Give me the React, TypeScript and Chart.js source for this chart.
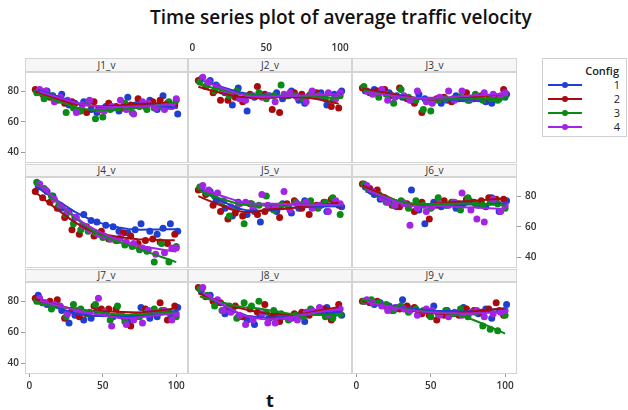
import React, { useEffect, useRef } from "react";
import { Chart, registerables } from "chart.js";
Chart.register(...registerables);

// ---------- DATA ----------
const CONFIGS = ["1", "2", "3", "4"];
const T1 = [6, 12, 16, 22, 27, 31, 37, 42, 46, 52, 57, 61, 67, 72, 76, 82, 87, 91, 96, 101];
const T2 = [4, 9, 14, 19, 24, 29, 34, 39, 44, 49, 54, 59, 64, 69, 74, 79, 84, 89, 94, 99];
const T3 = [5, 10, 15, 20, 25, 30, 35, 40, 45, 50, 55, 60, 65, 70, 75, 80, 85, 90, 95, 100];
const T4 = [7, 11, 17, 21, 26, 32, 36, 41, 47, 51, 56, 62, 66, 71, 77, 81, 86, 92, 97, 100];
const TIMES = [T1, T2, T3, T4];

const X_TICKS = [0, 50, 100];
const Y_TICKS = [40, 60, 80];
const PANEL_NAMES = ["J1_v", "J2_v", "J3_v", "J4_v", "J5_v", "J6_v", "J7_v", "J8_v", "J9_v"];

const J1 = [
  [80, 80, 77, 78, 71, 72, 73, 68, 66, 70, 69, 67, 76, 71, 72, 74, 68, 77, 70, 65],
  [81, 78, 76, 75, 72, 73, 67, 66, 73, 68, 72, 70, 69, 71, 75, 70, 73, 74, 72, 71],
  [79, 75, 77, 74, 66, 69, 67, 73, 62, 63, 68, 69, 72, 66, 70, 68, 69, 70, 73, 74],
  [81, 80, 73, 76, 74, 66, 71, 74, 68, 67, 70, 74, 68, 65, 73, 72, 69, 68, 70, 75],
];
const J2 = [
  [88, 87, 84, 79, 71, 82, 67, 76, 78, 77, 79, 75, 80, 74, 72, 78, 79, 71, 78, 80],
  [87, 83, 79, 74, 74, 76, 73, 78, 83, 78, 68, 66, 77, 79, 78, 77, 79, 76, 70, 69],
  [86, 84, 80, 80, 77, 80, 75, 77, 79, 75, 77, 84, 77, 77, 75, 78, 77, 75, 74, 77],
  [89, 86, 83, 80, 79, 75, 74, 77, 76, 77, 73, 78, 79, 76, 73, 80, 77, 79, 75, 79],
];
const J3 = [
  [80, 81, 80, 79, 77, 76, 74, 78, 75, 74, 72, 74, 77, 75, 74, 75, 73, 72, 75, 78],
  [82, 79, 80, 81, 77, 82, 75, 72, 66, 74, 75, 76, 73, 75, 79, 75, 77, 75, 76, 81],
  [83, 79, 76, 78, 72, 81, 76, 74, 68, 67, 74, 75, 75, 76, 74, 78, 74, 75, 74, 76],
  [80, 78, 81, 74, 76, 77, 74, 80, 73, 72, 76, 80, 74, 80, 75, 76, 79, 78, 77, 79],
];
const J4 = [
  [86, 83, 80, 72, 70, 66, 68, 64, 63, 61, 60, 57, 56, 58, 62, 57, 55, 59, 62, 57],
  [83, 79, 76, 72, 66, 58, 55, 60, 54, 57, 52, 51, 56, 54, 49, 51, 52, 50, 49, 55],
  [89, 85, 80, 74, 68, 62, 58, 57, 56, 53, 52, 51, 48, 47, 45, 44, 37, 49, 37, 47],
  [88, 84, 78, 74, 70, 66, 61, 58, 55, 54, 52, 53, 50, 49, 46, 45, 42, 43, 46, 46],
];
const J5 = [
  [85, 83, 77, 72, 67, 76, 68, 70, 63, 73, 70, 75, 69, 72, 77, 73, 74, 70, 75, 73],
  [84, 81, 74, 70, 65, 69, 67, 75, 68, 70, 73, 66, 75, 77, 72, 68, 74, 76, 78, 74],
  [86, 82, 80, 76, 67, 72, 62, 75, 74, 80, 71, 74, 73, 76, 75, 77, 72, 76, 79, 68],
  [87, 84, 82, 77, 73, 75, 76, 72, 81, 74, 73, 83, 71, 75, 76, 72, 74, 70, 77, 75],
];
const J6 = [
  [86, 81, 78, 77, 73, 76, 84, 71, 62, 76, 73, 74, 72, 75, 77, 74, 73, 79, 70, 77],
  [88, 85, 84, 79, 74, 73, 75, 70, 76, 65, 74, 77, 76, 75, 78, 76, 77, 79, 78, 78],
  [88, 83, 81, 76, 74, 77, 72, 77, 74, 72, 79, 74, 76, 71, 79, 75, 74, 76, 75, 72],
  [87, 83, 79, 76, 74, 75, 61, 72, 70, 73, 75, 74, 76, 82, 71, 65, 63, 78, 70, 74],
];
const J7 = [
  [84, 78, 77, 74, 66, 71, 68, 69, 74, 72, 70, 71, 67, 70, 76, 69, 70, 74, 72, 76],
  [82, 79, 80, 81, 69, 74, 70, 72, 77, 75, 75, 75, 70, 64, 71, 75, 72, 79, 68, 77],
  [80, 79, 75, 77, 70, 78, 75, 72, 78, 72, 68, 77, 67, 70, 70, 73, 75, 74, 73, 70],
  [82, 79, 78, 77, 72, 74, 73, 73, 82, 73, 64, 71, 65, 68, 66, 74, 73, 74, 68, 72],
];
const J8 = [
  [87, 84, 79, 72, 74, 70, 68, 65, 71, 69, 72, 70, 69, 71, 67, 73, 74, 76, 72, 71],
  [89, 83, 80, 79, 76, 77, 70, 75, 73, 78, 70, 67, 70, 72, 73, 71, 73, 75, 68, 78],
  [88, 84, 77, 74, 77, 69, 79, 77, 80, 73, 74, 72, 68, 71, 70, 75, 73, 70, 69, 72],
  [89, 83, 81, 74, 73, 71, 65, 68, 72, 66, 66, 70, 69, 68, 73, 74, 76, 72, 74, 75],
];
const J9 = [
  [80, 78, 79, 77, 76, 81, 75, 73, 74, 77, 72, 74, 72, 76, 73, 72, 75, 69, 74, 78],
  [80, 79, 80, 77, 74, 75, 77, 76, 72, 71, 68, 71, 72, 71, 75, 74, 73, 75, 79, 71],
  [80, 81, 79, 78, 74, 77, 73, 75, 74, 70, 72, 74, 72, 75, 70, 73, 64, 62, 61, 71],
  [81, 79, 77, 74, 76, 75, 74, 71, 75, 74, 71, 70, 73, 71, 73, 74, 70, 72, 73, 74],
];
const PANEL_DATA = [J1, J2, J3, J4, J5, J6, J7, J8, J9];

// ---------- STYLE / LAYOUT ----------
const COLORS = ["#1f3fd2", "#a80b0b", "#0b8a16", "#a424e6"];
const FONT = "'Open Sans', 'Noto Sans', sans-serif";
const COLS = [[25, 188], [188, 352], [352, 517]];
const ROWS = [[72, 163], [177, 268], [282, 374]];
const STRIPS = [[58, 72], [164, 177], [269, 282]];
const X_MIN = -3, X_MAX = 108, Y_MIN = 33, Y_MAX = 92.5;

function lowess(x: number[], y: number[], f = 0.6, iters = 2): number[] {
  const n = x.length;
  const r = Math.max(2, Math.ceil(f * n));
  let rw = new Array(n).fill(1);
  const fit = new Array(n).fill(0);
  for (let it = 0; it <= iters; it++) {
    for (let i = 0; i < n; i++) {
      const d = x.map((xj) => Math.abs(xj - x[i]));
      const h = [...d].sort((a, b) => a - b)[r - 1] * 1.000001 || 1;
      let sw = 0, swx = 0, swy = 0, swxx = 0, swxy = 0;
      for (let j = 0; j < n; j++) {
        const u = d[j] / h;
        let w = u < 1 ? Math.pow(1 - u * u * u, 3) : 0;
        w *= rw[j];
        sw += w; swx += w * x[j]; swy += w * y[j]; swxx += w * x[j] * x[j]; swxy += w * x[j] * y[j];
      }
      const mx = swx / sw, my = swy / sw;
      const vx = swxx / sw - mx * mx;
      const b = vx > 1e-9 ? (swxy / sw - mx * my) / vx : 0;
      fit[i] = my + b * (x[i] - mx);
    }
    if (it < iters) {
      const res = y.map((v, i) => v - fit[i]);
      const abs = res.map(Math.abs).sort((a, b) => a - b);
      const s = abs[Math.floor(n / 2)] || 1;
      rw = res.map((e) => {
        const u = e / (6 * s);
        return Math.abs(u) < 1 ? Math.pow(1 - u * u, 2) : 0;
      });
    }
  }
  return fit;
}

const framePlugin = {
  id: "frame",
  afterDraw(chart: any) {
    const { ctx, chartArea: a } = chart;
    ctx.save();
    ctx.strokeStyle = "#d4d4d4";
    ctx.lineWidth = 1;
    ctx.strokeRect(a.left + 0.5, a.top + 0.5, a.right - a.left - 1, a.bottom - a.top - 1);
    ctx.restore();
  },
};

function Panel({ idx }: { idx: number }) {
  const ref = useRef<HTMLCanvasElement>(null);
  const r = Math.floor(idx / 3), c = idx % 3;
  const showLeftY = c === 0 && r !== 1;
  const showRightY = c === 2 && r === 1;
  const showTopX = c === 1 && r === 0;
  const showBottomX = c !== 1 && r === 2;
  const leftW = showLeftY ? 25 : 0;
  const rightW = showRightY ? 32 : 0;
  const topH = showTopX ? 34 : 0;
  const botH = showBottomX ? 22 : 0;
  const left = COLS[c][0] - leftW;
  const top = ROWS[r][0] - topH;
  const width = COLS[c][1] - COLS[c][0] + leftW + rightW;
  const height = ROWS[r][1] - ROWS[r][0] + topH + botH;

  useEffect(() => {
    const series = PANEL_DATA[idx];
    const datasets: any[] = [];
    for (let k = series.length - 1; k >= 0; k--) {
      datasets.push({
        type: "scatter",
        data: TIMES[k].map((x, i) => ({ x, y: series[k][i] })),
        backgroundColor: COLORS[k],
        borderWidth: 0,
        pointRadius: 3.5,
        order: 2,
      });
    }
    for (let k = series.length - 1; k >= 0; k--) {
      const fit = lowess(TIMES[k], series[k]);
      datasets.push({
        type: "line",
        data: TIMES[k].map((x, i) => ({ x, y: fit[i] })),
        borderColor: COLORS[k],
        borderWidth: 2,
        pointRadius: 0,
        fill: false,
        tension: 0,
        order: 1,
      });
    }
    const tickFont = { family: FONT, size: 10, weight: "600" as any };
    const chart = new Chart(ref.current!, {
      type: "scatter",
      data: { datasets },
      options: {
        responsive: false,
        maintainAspectRatio: false,
        animation: false,
        layout: { padding: 0, autoPadding: false },
        plugins: { legend: { display: false }, tooltip: { enabled: false }, title: { display: false } },
        scales: {
          x: {
            type: "linear",
            min: X_MIN,
            max: X_MAX,
            position: showTopX ? "top" : "bottom",
            display: showTopX || showBottomX,
            afterBuildTicks: (s: any) => { s.ticks = X_TICKS.map((v) => ({ value: v })); },
            afterFit: (s: any) => { s.height = showTopX ? topH : botH; s.paddingLeft = 0; s.paddingRight = 0; },
            grid: { drawOnChartArea: false, drawTicks: true, tickLength: 3, color: "#999" },
            border: { display: false },
            ticks: { font: tickFont, color: "#333", padding: showTopX ? 15 : 3, maxRotation: 0, autoSkip: false },
          },
          y: {
            type: "linear",
            min: Y_MIN,
            max: Y_MAX,
            position: showRightY ? "right" : "left",
            display: showLeftY || showRightY,
            afterBuildTicks: (s: any) => { s.ticks = Y_TICKS.map((v) => ({ value: v })); },
            afterFit: (s: any) => { s.width = showRightY ? rightW : leftW; s.paddingTop = 0; s.paddingBottom = 0; },
            grid: { drawOnChartArea: false, drawTicks: true, tickLength: 4, color: "#999" },
            border: { display: false },
            ticks: { font: tickFont, color: "#333", padding: showRightY ? 4 : 2, autoSkip: false },
          },
        },
      } as any,
      plugins: [framePlugin],
    });
    return () => chart.destroy();
  }, []);

  return (
    <canvas
      ref={ref}
      width={width}
      height={height}
      style={{ position: "absolute", left, top, width, height }}
    />
  );
}

function Strip({ idx }: { idx: number }) {
  const r = Math.floor(idx / 3), c = idx % 3;
  return (
    <div
      style={{
        position: "absolute",
        left: COLS[c][0],
        top: STRIPS[r][0],
        width: COLS[c][1] - COLS[c][0],
        height: STRIPS[r][1] - STRIPS[r][0],
        boxSizing: "border-box",
        border: "1px solid #d4d4d4",
        background: "#f6f6f6",
        fontFamily: FONT,
        fontSize: 10,
        color: "#333",
        textAlign: "center",
        lineHeight: `${STRIPS[r][1] - STRIPS[r][0] - 2}px`,
      }}
    >
      {PANEL_NAMES[idx]}
    </div>
  );
}

export default function App() {
  const legendRows = [26, 40, 54, 68];
  return (
    <div style={{ position: "absolute", left: 0, top: 0, width: 628, height: 410, background: "#fff", overflow: "hidden" }}>
      <div
        style={{
          position: "absolute",
          left: 150,
          top: 4,
          whiteSpace: "nowrap",
          fontFamily: FONT,
          fontWeight: 600,
          fontSize: 19,
          color: "#111",
        }}
      >
        Time series plot of average traffic velocity
      </div>
      {PANEL_NAMES.map((_, i) => (
        <Panel key={"p" + i} idx={i} />
      ))}
      {PANEL_NAMES.map((_, i) => (
        <Strip key={"s" + i} idx={i} />
      ))}
      <div
        style={{
          position: "absolute",
          left: 266,
          top: 388,
          fontFamily: FONT,
          fontWeight: 700,
          fontSize: 18,
          color: "#111",
        }}
      >
        t
      </div>
      <div
        style={{
          position: "absolute",
          left: 542,
          top: 58,
          width: 85,
          height: 79,
          boxSizing: "border-box",
          border: "1px solid #d0d0d0",
          fontFamily: FONT,
          color: "#222",
        }}
      >
        <div style={{ position: "absolute", right: 7, top: 4, fontSize: 11, fontWeight: 600 }}>Config</div>
        {CONFIGS.map((cfg, k) => (
          <React.Fragment key={cfg}>
            <div style={{ position: "absolute", left: 5, top: legendRows[k] - 1, width: 34, height: 2, background: COLORS[k] }} />
            <div
              style={{
                position: "absolute",
                left: 19,
                top: legendRows[k] - 3,
                width: 6,
                height: 6,
                borderRadius: "50%",
                background: COLORS[k],
              }}
            />
            <div style={{ position: "absolute", right: 6, top: legendRows[k] - 8, fontSize: 11, lineHeight: "15px" }}>{cfg}</div>
          </React.Fragment>
        ))}
      </div>
    </div>
  );
}
